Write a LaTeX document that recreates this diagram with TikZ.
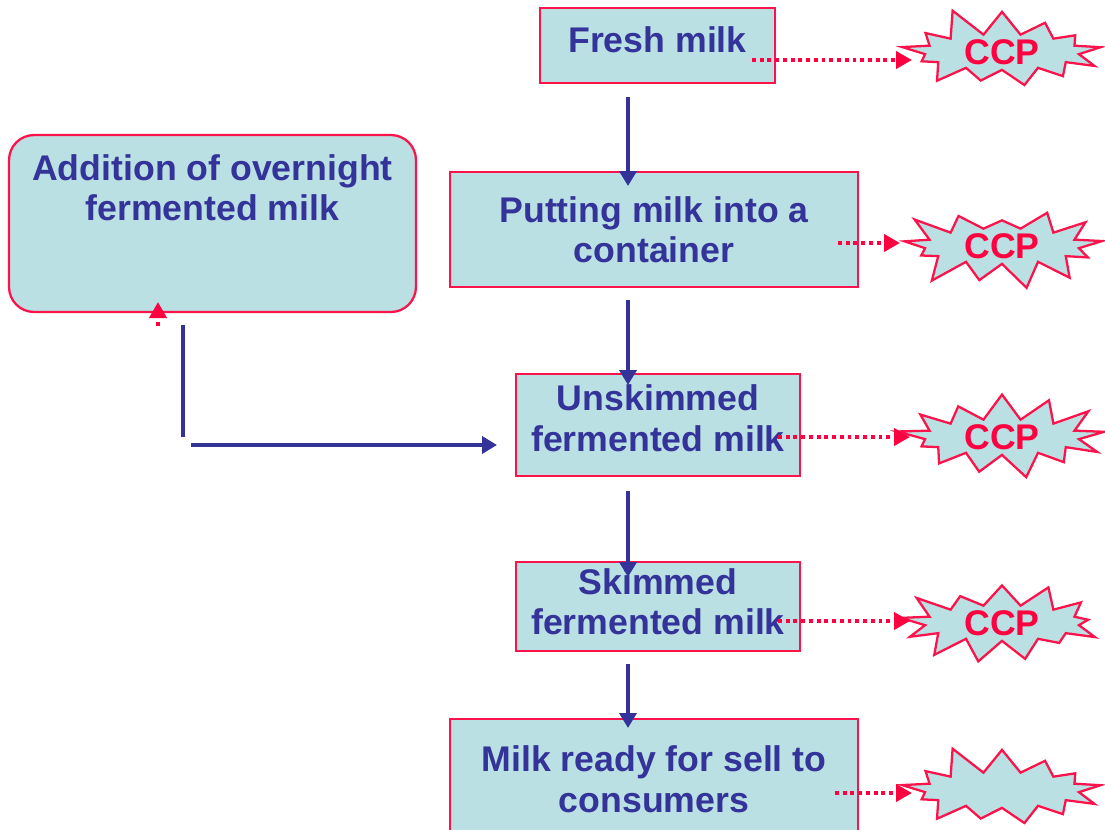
\documentclass[tikz,border=0pt]{standalone}
\usepackage{fontspec}
\setmainfont{Liberation Sans}
\usetikzlibrary{shapes.symbols, arrows.meta, positioning}
\definecolor{boxfill}{RGB}{186,224,227}
\definecolor{boxline}{RGB}{250,20,75}
\definecolor{flowblue}{RGB}{51,51,153}
\definecolor{ccpred}{RGB}{255,0,64}

\begin{document}
\begin{tikzpicture}[x=0.02cm, y=-0.02cm,
  font=\fontsize{20.3}{23}\selectfont\bfseries,
  stepbox/.style={draw=boxline, line width=1.3pt, fill=boxfill, text=flowblue, align=center, inner sep=2pt},
  ccp/.style={starburst, draw=boxline, line width=1.3pt, fill=boxfill, text=ccpred, inner sep=0pt, minimum width=4.3cm, minimum height=0.8cm, starburst points=13, starburst point height=0.6cm},
  flow/.style={draw=flowblue, line width=2.3pt, -{Triangle[length=0.3cm, width=0.34cm]}},
  ccparrow/.style={draw=ccpred, line width=2.2pt, dash pattern=on 2.2pt off 2.2pt, -{Triangle[length=0.32cm, width=0.34cm]}}]
\useasboundingbox (0,0) rectangle (1105,829);

% process steps
\node[stepbox, minimum width=4.7cm, minimum height=1.5cm, text depth=0.24cm] (fresh) at (657.5,45.5) {Fresh milk};
\node[stepbox, minimum width=8.16cm, minimum height=2.3cm] (container) at (654,229.5) {Putting milk into a\\container};
\node[stepbox, minimum width=5.68cm, minimum height=2.04cm, text depth=0.28cm] (unskimmed) at (658,425) {Unskimmed\\fermented milk};
\node[stepbox, minimum width=5.68cm, minimum height=1.78cm, text depth=0.2cm] (skimmed) at (658,606.5) {Skimmed\\fermented milk};
\node[stepbox, minimum width=8.16cm, minimum height=2.4cm, anchor=north] (ready) at (654,718) {Milk ready for sell to\\consumers};
\node[stepbox, rounded corners=0.5cm, minimum width=8.14cm, minimum height=3.54cm] (overnight) at (212.5,223.5) {};
\node[text=flowblue, align=center, inner sep=0pt, below=0.4cm of overnight.north] (overnighttext) {Addition of overnight\\fermented milk};

% critical control points
\node[ccp, random starburst=11] (ccp1) at (1002,52) {CCP};
\node[ccp, random starburst=23] (ccp2) at (1002,246) {CCP};
\node[ccp, random starburst=37] (ccp3) at (1002,437) {CCP};
\node[ccp, random starburst=41] (ccp4) at (1002,623) {CCP};
\node[ccp, random starburst=11] (ccp5) at (1002,790) {\phantom{CCP}};

% main flow
\coordinate (f1s) at (628,97);  \coordinate (f1e) at (628,186);
\coordinate (f2s) at (628,300); \coordinate (f2e) at (628,385);
\coordinate (f3s) at (628,491); \coordinate (f3e) at (628,577);
\coordinate (f4s) at (628,664); \coordinate (f4e) at (628,728);
\draw[flow] (f1s) -- (f1e);
\draw[flow] (f2s) -- (f2e);
\draw[flow] (f3s) -- (f3e);
\draw[flow] (f4s) -- (f4e);

% side branch
\coordinate (b1) at (183,325); \coordinate (b2) at (183,437);
\coordinate (b3) at (191,445); \coordinate (b4) at (497,445);
\draw[draw=flowblue, line width=2.3pt] (b1) -- (b2);
\draw[flow] (b3) -- (b4);
\coordinate (u1) at (158,326); \coordinate (u2) at (158,302);
\draw[ccparrow] (u1) -- (u2);

% links to CCP
\coordinate (c1s) at (752,60);  \coordinate (c1e) at (912,60);
\coordinate (c2s) at (838,243); \coordinate (c2e) at (900,243);
\coordinate (c3s) at (778,437); \coordinate (c3e) at (910,437);
\coordinate (c4s) at (778,621); \coordinate (c4e) at (910,621);
\coordinate (c5s) at (835,793); \coordinate (c5e) at (912,793);
\draw[ccparrow] (c1s) -- (c1e);
\draw[ccparrow] (c2s) -- (c2e);
\draw[ccparrow] (c3s) -- (c3e);
\draw[ccparrow] (c4s) -- (c4e);
\draw[ccparrow] (c5s) -- (c5e);
\end{tikzpicture}
\end{document}
